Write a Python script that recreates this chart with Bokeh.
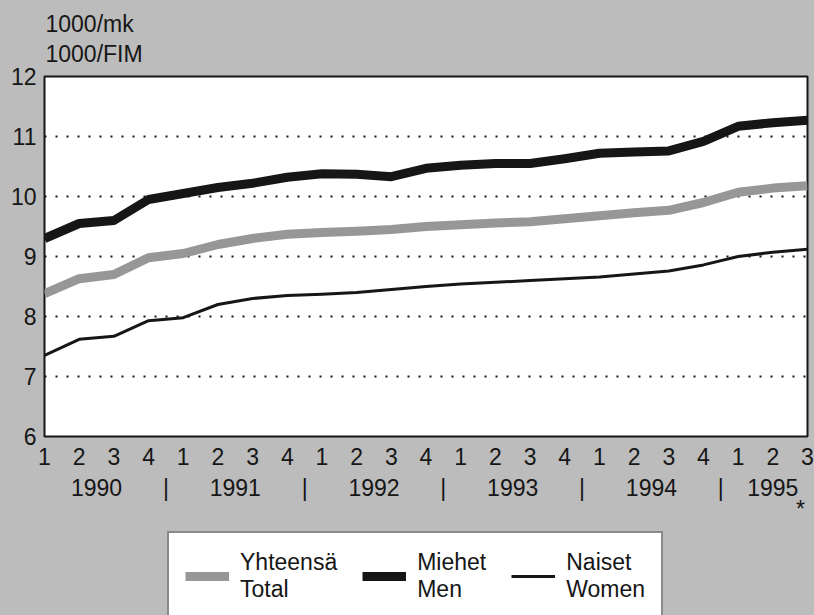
from bokeh.plotting import figure
from bokeh.layouts import column
from bokeh.models import (LinearAxis, FixedTicker, Grid, Range1d, Legend,
                          LegendItem, ColumnDataSource, Title)
from bokeh.embed import file_html
from bokeh.resources import INLINE

# ---- data -------------------------------------------------------------
quarter_labels = ["1", "2", "3", "4"] * 5 + ["1", "2", "3"]
year_labels = ["1990", "|", "1991", "|", "1992", "|", "1993", "|", "1994", "|", "1995"]
year_label_pos = [1.5, 3.5, 5.5, 7.5, 9.5, 11.5, 13.5, 15.5, 17.5, 19.5, 21.0]
star_pos = [21.8]
star_label = ["*"]
y_ticks = [6, 7, 8, 9, 10, 11, 12]
grid_ticks = [7, 8, 9, 10, 11]

total = [8.38, 8.63, 8.70, 8.98, 9.05, 9.20, 9.30, 9.37, 9.40, 9.42, 9.45, 9.50,
         9.53, 9.56, 9.58, 9.63, 9.68, 9.73, 9.77, 9.90, 10.07, 10.14, 10.18]
men = [9.30, 9.55, 9.60, 9.95, 10.05, 10.15, 10.22, 10.32, 10.38, 10.37, 10.33, 10.47,
       10.52, 10.55, 10.55, 10.63, 10.72, 10.74, 10.76, 10.92, 11.17, 11.23, 11.27]
women = [7.35, 7.62, 7.67, 7.93, 7.98, 8.20, 8.30, 8.35, 8.37, 8.40, 8.45, 8.50,
         8.54, 8.57, 8.60, 8.63, 8.66, 8.71, 8.76, 8.86, 9.00, 9.07, 9.12]
x = list(range(len(total)))

unit_text = "1000/mk\n1000/FIM"
legend_labels = ["Yhteensä\nTotal", "Miehet\nMen", "Naiset\nWomen"]

FONT = "Liberation Sans"
BG = "#bcbcbc"
INK = "#161616"
GREY = "#979797"
FS = "23px"

src = ColumnDataSource(dict(x=x, total=total, men=men, women=women))

H1 = 530
p = figure(width=814, height=H1, output_backend="svg", toolbar_location=None,
           x_range=Range1d(0, 22), y_range=Range1d(6, 12),
           x_axis_type=None, y_axis_type=None,
           min_border_left=44, min_border_right=7, min_border_top=76,
           min_border_bottom=H1 - 436,
           background_fill_color="white", border_fill_color=BG,
           outline_line_color=INK, outline_line_width=2)


def style_axis(ax, standoff):
    ax.axis_line_color = None
    ax.major_tick_in = 0
    ax.major_tick_out = 0
    ax.minor_tick_line_color = None
    ax.major_label_standoff = standoff
    ax.major_label_text_font = FONT
    ax.major_label_text_font_size = FS
    ax.major_label_text_color = INK


yax = LinearAxis(ticker=FixedTicker(ticks=y_ticks))
style_axis(yax, 8)
p.add_layout(yax, "left")

qax = LinearAxis(ticker=FixedTicker(ticks=x))
qax.major_label_overrides = {i: quarter_labels[i] for i in x}
style_axis(qax, 11)
p.add_layout(qax, "below")

yrax = LinearAxis(ticker=FixedTicker(ticks=year_label_pos))
yrax.major_label_overrides = {year_label_pos[i]: year_labels[i] for i in range(len(year_labels))}
style_axis(yrax, 7)
p.add_layout(yrax, "below")

sax = LinearAxis(ticker=FixedTicker(ticks=star_pos))
sax.major_label_overrides = {star_pos[0]: star_label[0]}
style_axis(sax, -8)
p.add_layout(sax, "below")

g = Grid(dimension=1, ticker=FixedTicker(ticks=grid_ticks),
         grid_line_color=INK, grid_line_width=2, grid_line_dash="2 9")
p.add_layout(g)

p.line("x", "total", source=src, line_color=GREY, line_width=9,
       line_join="round", line_cap="butt")
p.line("x", "men", source=src, line_color=INK, line_width=9,
       line_join="round", line_cap="butt")
p.line("x", "women", source=src, line_color=INK, line_width=3,
       line_join="round", line_cap="butt")

p.add_layout(Title(text=unit_text, align="left", offset=1, standoff=18,
                   text_font=FONT, text_font_size=FS, text_font_style="normal",
                   text_color=INK, text_line_height=1.17), "above")

# ---- legend strip (same series, kept out of view; only the legend shows) ----
H2 = 615 - H1
q = figure(width=814, height=H2, output_backend="svg", toolbar_location=None,
           x_range=Range1d(0, 22), y_range=Range1d(0, 1),
           x_axis_type=None, y_axis_type=None,
           min_border_left=44, min_border_right=7,
           min_border_top=0, min_border_bottom=0,
           background_fill_color=None, border_fill_color=BG,
           outline_line_color=None)
lt = q.line("x", "total", source=src, line_color=GREY, line_width=9)
lm = q.line("x", "men", source=src, line_color=INK, line_width=9)
lw = q.line("x", "women", source=src, line_color=INK, line_width=3)

legend = Legend(items=[LegendItem(label=legend_labels[0], renderers=[lt]),
                       LegendItem(label=legend_labels[1], renderers=[lm]),
                       LegendItem(label=legend_labels[2], renderers=[lw])],
                orientation="horizontal", location=(123, -6),
                padding=16, spacing=25, margin=0,
                glyph_width=44, glyph_height=20, label_standoff=11,
                label_text_font=FONT, label_text_font_size=FS,
                label_text_color=INK,
                border_line_color=INK, border_line_width=2,
                background_fill_color="white", background_fill_alpha=1.0)
q.add_layout(legend)

layout = column(p, q, spacing=0, styles={"background-color": BG})
open("out.html", "w").write(file_html(layout, INLINE))
